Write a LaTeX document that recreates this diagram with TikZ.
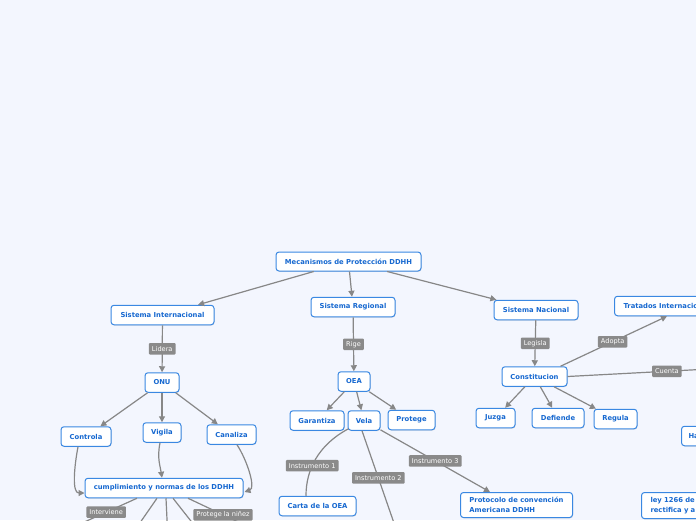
\documentclass[tikz,border=0pt]{standalone}
\usepackage{fontspec}
\setmainfont{DejaVu Sans}
\usetikzlibrary{arrows.meta,calc,shadows}
\definecolor{bg}{RGB}{243,246,254}
\definecolor{boxblue}{RGB}{58,136,226}
\definecolor{txtblue}{RGB}{22,104,208}
\definecolor{edgegray}{RGB}{135,135,135}
\definecolor{labgray}{RGB}{138,138,138}
\tikzset{
  box/.style={draw=boxblue, fill=white, line width=1pt, rounded corners=3pt,
    text=txtblue, font=\fontsize{6.8}{9.5}\selectfont\bfseries,
    minimum height=19.5pt, inner sep=0pt,
    drop shadow={shadow xshift=0.5pt, shadow yshift=-0.8pt, opacity=0.25}},
  lab/.style={fill=labgray, text=white, font=\fontsize{6.6}{7.5}\selectfont,
    rounded corners=1pt, inner xsep=3pt, inner ysep=2pt, minimum height=11.5pt},
  conn/.style={draw=edgegray, line width=1.2pt},
  arr/.style={conn, -{Triangle[length=6pt,width=6pt]}},
}
\begin{document}
\begin{tikzpicture}[x=1pt,y=-1pt]
\fill[bg] (0,0) rectangle (696,520);
\useasboundingbox (0,0) rectangle (696,520);

% main nodes
\node[box, minimum width=145pt, minimum height=19pt] (mec) at (348.5,261.5) {Mecanismos de Protección DDHH};
\node[box, minimum width=103pt] (sint) at (162.5,315) {Sistema Internacional};
\node[box, minimum width=84pt] (sreg) at (353,307) {Sistema Regional};
\node[box, minimum width=84pt] (snac) at (536,310) {Sistema Nacional};

% international
\node[box, minimum width=34pt] (onu) at (162,382.5) {ONU};
\node[box, minimum width=50pt] (controla) at (86,436.5) {Controla};
\node[box, minimum width=38pt] (vigila) at (162,432.5) {Vigila};
\node[box, minimum width=49pt] (canaliza) at (231.5,434.5) {Canaliza};
\node[box, minimum width=158pt] (cump) at (164,488) {cumplimiento y normas de los DDHH};

% regional
\node[box, minimum width=32pt] (oea) at (354,381.5) {OEA};
\node[box, minimum width=54pt] (garantiza) at (317,420.5) {Garantiza};
\node[box, minimum width=32pt] (vela) at (364,420.5) {Vela};
\node[box, minimum width=47pt] (protege) at (411.5,420) {Protege};
\node[box, minimum width=77pt] (carta) at (317.5,506) {Carta de la OEA};
\node[box, anchor=north west, align=left, minimum width=112pt, inner xsep=8pt, inner ysep=5pt] (prot) at (460,492) {Protocolo de convención\\Americana DDHH};

% national
\node[box, minimum width=65pt] (cons) at (534.5,376.5) {Constitucion};
\node[box, minimum width=39pt] (juzga) at (495.5,418) {Juzga};
\node[box, minimum width=52pt] (defiende) at (558,418) {Defiende};
\node[box, minimum width=43pt] (regula) at (615.5,419) {Regula};
\node[box, anchor=west, text width=86pt, align=left, inner xsep=9pt] (trat) at (614,306) {Tratados Internacio};
\node[box, anchor=west, text width=30pt, align=left, inner xsep=7pt] (ha) at (681,436) {Ha};
\node[box, anchor=north west, text width=60pt, align=left, inner xsep=9pt, inner ysep=5pt] (ley) at (641,492) {ley 1266 de\\rectifica y a};

% free ends
\coordinate (c1) at (60,533);
\coordinate (c2) at (135,530);
\coordinate (c3) at (167.5,530);
\coordinate (c4) at (198,530);
\coordinate (c5) at (251,528);
\coordinate (i2end) at (396.4,530);
\coordinate (cuentaend) at (700,369.5);

% connectors: root
\draw[arr] (mec) -- (sint);
\draw[arr] (mec) -- (sreg);
\draw[arr] (mec) -- (snac);

% international
\draw[arr] (sint) -- node[lab,pos=0.5]{Lidera} (onu);
\draw[arr] (onu) -- (controla);
\draw[arr] (onu) -- (vigila);
\draw[arr] (onu) -- (canaliza);
\draw[arr] ($(controla.south)+(-8,0)$) .. controls (74,468) and (72,493) .. ($(cump.west)+(0,5)$);
\draw[arr] ($(vigila.south)+(-2,0)$) .. controls (157,458) and (160,465) .. ($(cump.north)+(-2,0)$);
\draw[arr] ($(canaliza.south)+(5.5,0)$) .. controls (247,460) and (256,488) .. ($(cump.east)+(1,4)$);
\draw[conn] ($(cump.south)+(-27,0)$) -- node[lab,pos=0.4]{Interviene} (c1);
\draw[conn] ($(cump.south)+(-7,0)$) -- (c2);
\draw[conn] ($(cump.south)+(2,0)$) -- (c3);
\draw[conn] ($(cump.south)+(9,0)$) -- (c4);
\draw[conn] ($(cump.south)+(24,0)$) -- node[lab,pos=0.556]{Protege la niñez} (c5);

% regional
\draw[arr] (sreg) -- node[lab,pos=0.5]{Rige} (oea);
\draw[arr] (oea) -- (garantiza);
\draw[arr] (oea) -- (vela);
\draw[arr] (oea) -- (protege);
\draw[conn] ($(vela.south west)+(1,-2)$) .. controls (318,445) and (306,470) .. node[lab,pos=0.6]{Instrumento 1} (carta.north -| 306,0);
\draw[conn] ($(vela.south)+(-2,0)$) -- node[lab,pos=0.475]{Instrumento 2} (i2end);
\draw[arr] (vela) -- node[lab,pos=0.5]{Instrumento 3} ($(prot.north west)+(30,0)$);

% national
\draw[arr] (snac) -- node[lab,pos=0.5]{Legisla} (cons);
\draw[arr] (cons) -- (juzga);
\draw[arr] (cons) -- (defiende);
\draw[arr] (cons) -- (regula);
\draw[arr] ($(cons.north east)+(-7,0)$) -- node[lab,pos=0.49]{Adopta} ($(trat.south west)+(53,0)$);
\draw[conn] (cons.east) -- node[lab,pos=0.75]{Cuenta} (cuentaend);
\end{tikzpicture}
\end{document}
